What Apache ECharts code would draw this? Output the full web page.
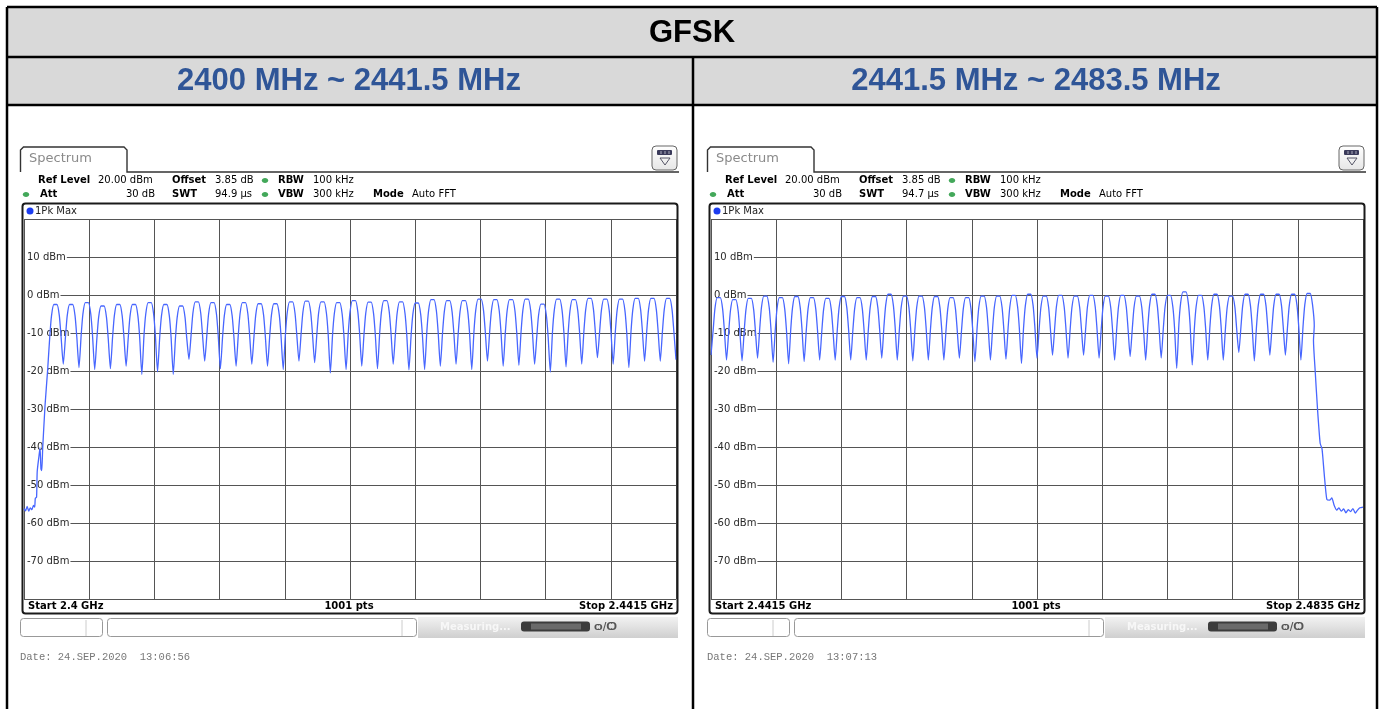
<!DOCTYPE html>
<html><head><meta charset="utf-8">
<script src="https://cdn.jsdelivr.net/npm/echarts/dist/echarts.min.js"></script>
<style>html,body{margin:0;padding:0;background:#fff}#c{width:1384px;height:709px}</style>
</head><body><div id="c"></div><script>
// ---------------- DATA ----------------
const titleText = 'GFSK';
const bandTitles = ['2400 MHz ~ 2441.5 MHz', '2441.5 MHz ~ 2483.5 MHz'];
const yTicksDbm = [20, 10, 0, -10, -20, -30, -40, -50, -60, -70, -80];

// Left sweep: 2400 .. 2441.5 MHz
const leftStartMHz = 2400, leftStopMHz = 2441.5;
const leftChannelsMHz = [2402,2403,2404,2405,2406,2407,2408,2409,2410,2411,2412,2413,2414,2415,2416,2417,2418,2419,2420,2421,
  2422,2423,2424,2425,2426,2427,2428,2429,2430,2431,2432,2433,2434,2435,2436,2437,2438,2439,2440,2441];
const leftPeakDbm = [-2.5,-2.5,-2.0,-2.9,-2.5,-2.5,-2.0,-2.5,-2.9,-1.8,-2.0,-2.5,-2.0,-2.3,-2.3,-1.8,-1.6,-1.8,-2.0,
  -1.5,-1.9,-1.5,-1.8,-2.1,-1.2,-1.5,-1.5,-1.1,-1.2,-1.2,-1.1,-2.4,-1.1,-1.2,-0.9,-1.1,-1.1,-0.9,-0.9,-0.9];
const leftTroughDbm = [-18.2,-19.1,-19.6,-19.4,-18.7,-20.9,-20.2,-20.9,-16.9,-17.4,-19.4,-18.7,-18.2,-18.7,-19.6,-17.4,-17.8,-20.5,
  -19.6,-18.7,-19.4,-18.2,-19.7,-19.6,-18.7,-18.2,-19.6,-17.4,-18.7,-18.5,-18.2,-20.3,-18.9,-18.2,-16.5,-18.2,-19.1,-17.4,-17.4];
const leftLeadTrace = [[2400.0,-56.2],[2400.1,-56.8],[2400.2,-55.6],[2400.3,-56.9],[2400.4,-56.0],[2400.5,-56.5],[2400.6,-55.4],
  [2400.68,-55.8],[2400.72,-53.5],[2400.8,-53.2],[2400.84,-46.5],[2400.95,-42.5],[2401.02,-40.2],[2401.08,-45.8],[2401.13,-46.2],
  [2401.19,-40.3],[2401.34,-29],[2401.5,-20]];
const leftTailTrace = [[2441.5,-17.0]];

// Right sweep: 2441.5 .. 2483.5 MHz
const rightStartMHz = 2441.5, rightStopMHz = 2483.5;
const rightChannelsMHz = [2442,2443,2444,2445,2446,2447,2448,2449,2450,2451,2452,2453,2454,2455,2456,2457,2458,2459,2460,2461,
  2462,2463,2464,2465,2466,2467,2468,2469,2470,2471,2472,2473,2474,2475,2476,2477,2478,2479,2480];
const rightPeakDbm = [-0.7,-1.2,-0.9,-0.3,-0.7,-0.4,-0.7,-0.9,-0.4,-0.7,-0.4,0.2,-0.3,-0.3,-0.4,-0.7,-0.7,-0.3,-0.3,-0.1,0.2,
  -0.3,-0.1,-0.3,-0.1,-0.3,-0.1,-0.3,0.2,-0.1,0.8,-0.1,0.2,-0.3,0.2,0.2,0.2,0.2,0.4];
const rightTroughDbm = [-17.1,-17.3,-16.6,-17.7,-18.1,-17.5,-17.1,-17.1,-17.1,-17.1,-16.6,-17.1,-17.3,-17.1,-17.1,-16.6,-17.5,-17.1,-16.9,-18.0,
  -16.6,-15.8,-16.6,-15.8,-16.6,-17.1,-16.2,-17.1,-16.6,-19.3,-18.4,-17.1,-17.1,-15.1,-17.3,-15.8,-15.8,-17.1];
const rightLeadTrace = [[2441.5,-15.8]];
const rightTailTrace = [[2480.31,-12],[2480.42,-20],[2480.57,-30],[2480.74,-39],[2480.86,-40.5],[2481.0,-47],
  [2481.17,-53.8],[2481.35,-54.0],[2481.49,-53.4],[2481.64,-55.3],[2481.81,-56.6],[2481.95,-56.0],[2482.1,-56.9],[2482.25,-56.3],
  [2482.4,-57.3],[2482.55,-56.5],[2482.7,-57.0],[2482.85,-56.2],[2483.0,-57.4],[2483.15,-56.6],[2483.3,-56.0],[2483.5,-55.8]];

const panelInfo = [
  {swt:'94.9 µs', start:'Start 2.4 GHz', stop:'Stop 2.4415 GHz', date:'Date: 24.SEP.2020  13:06:56'},
  {swt:'94.7 µs', start:'Start 2.4415 GHz', stop:'Stop 2.4835 GHz', date:'Date: 24.SEP.2020  13:07:13'}
];

// ---------------- BUILD ----------------
// Shape of one channel lobe: [MHz from channel centre, dB below the channel peak]
const LOBE_SHAPE = [[-0.36,-8.5],[-0.25,-3.0],[-0.1,0],[0.1,0],[0.25,-3.0],[0.36,-8.5]];
function buildTrace(start, lead, channels, peaks, troughs, tail) {
  const pts = lead.map(p => [p[0] - start, p[1]]);
  channels.forEach((f, i) => {
    LOBE_SHAPE.forEach(s => pts.push([f + s[0] - start, peaks[i] + s[1]]));
    if (i < troughs.length) pts.push([f + 0.5 - start, troughs[i]]);
  });
  tail.forEach(p => pts.push([p[0] - start, p[1]]));
  return pts;
}
const leftData = buildTrace(leftStartMHz, leftLeadTrace, leftChannelsMHz, leftPeakDbm, leftTroughDbm, leftTailTrace);
const rightData = buildTrace(rightStartMHz, rightLeadTrace, rightChannelsMHz, rightPeakDbm, rightTroughDbm, rightTailTrace);

const G = [];
const F = '"DejaVu Sans", sans-serif';
function txt(x, y, s, o) {
  G.push({type:'text', x:x, y:y, z:50, silent:true,
    style:Object.assign({text:s, fill:'#000', font:'10px ' + F, align:'left', verticalAlign:'middle'}, o || {})});
}
function rect(x, y, w, h, style, r, z) {
  G.push({type:'rect', z:(z === undefined ? 1 : z), silent:true, shape:{x:x, y:y, width:w, height:h, r:r || 0}, style:style});
}
function line(x1, y1, x2, y2, style, z) {
  G.push({type:'line', z:(z === undefined ? 60 : z), silent:true, shape:{x1:x1, y1:y1, x2:x2, y2:y2}, style:style});
}

// table
rect(7, 7, 1370, 98, {fill:'#d9d9d9'}, 0, -10);
const B = {stroke:'#000', lineWidth:2.5};
line(7, 7, 1377, 7, B); line(7, 57, 1377, 57, B); line(7, 105, 1377, 105, B);
line(7, 7, 7, 709, B); line(1377, 7, 1377, 709, B); line(693, 57, 693, 709, B);
txt(692, 33, titleText, {font:'bold 31px "Liberation Sans", Arial, sans-serif', align:'center'});
txt(349, 81, bandTitles[0], {font:'bold 31px "Liberation Sans", Arial, sans-serif', align:'center', fill:'#2f5597'});
txt(1036, 81, bandTitles[1], {font:'bold 31px "Liberation Sans", Arial, sans-serif', align:'center', fill:'#2f5597'});

function dot(cx, cy, color) {
  G.push({type:'ellipse', z:50, silent:true, shape:{cx:cx, cy:cy, rx:3.2, ry:2.4}, style:{fill:color}});
}
function panel(dx, p) {
  // tab
  G.push({type:'polyline', z:60, silent:true, shape:{points:[[20.5+dx,172],[20.5+dx,150],[23.5+dx,147],[124+dx,147],[127+dx,150],[127+dx,172],[679+dx,172]]},
    style:{stroke:'#333', lineWidth:1.4, fill:null}});
  txt(29+dx, 159, 'Spectrum', {fill:'#8a8a8a', font:'13px ' + F});
  // icon
  rect(652+dx, 146, 25, 24, {fill:{type:'linear',x:0,y:0,x2:0,y2:1,colorStops:[{offset:0,color:'#ffffff'},{offset:1,color:'#e6e6e6'}]}, stroke:'#666', lineWidth:1}, 4, 50);
  rect(657+dx, 150, 15, 5, {fill:'#3a3a5a'}, 1, 51);
  line(661+dx, 151, 661+dx, 154, {stroke:'#aab', lineWidth:1}, 52);
  line(665+dx, 151, 665+dx, 154, {stroke:'#aab', lineWidth:1}, 52);
  line(669+dx, 151, 669+dx, 154, {stroke:'#aab', lineWidth:1}, 52);
  G.push({type:'polygon', z:51, silent:true, shape:{points:[[660+dx,158],[670+dx,158],[665+dx,165]]}, style:{fill:null, stroke:'#556', lineWidth:1}});
  // info lines
  const bold = 'bold 10px ' + F, norm = '10px ' + F;
  txt(38+dx, 180, 'Ref Level', {font:bold}); txt(98+dx, 180, '20.00 dBm', {font:norm});
  txt(172+dx, 180, 'Offset', {font:bold}); txt(215+dx, 180, '3.85 dB', {font:norm});
  dot(265+dx, 180.5, '#43a85a');
  txt(278+dx, 180, 'RBW', {font:bold}); txt(313+dx, 180, '100 kHz', {font:norm});
  dot(26+dx, 194.5, '#43a85a');
  txt(40+dx, 194, 'Att', {font:bold}); txt(155+dx, 194, '30 dB', {font:norm, align:'right'});
  txt(172+dx, 194, 'SWT', {font:bold}); txt(215+dx, 194, p.swt, {font:norm});
  dot(265+dx, 194.5, '#43a85a');
  txt(278+dx, 194, 'VBW', {font:bold}); txt(313+dx, 194, '300 kHz', {font:norm});
  txt(373+dx, 194, 'Mode', {font:bold}); txt(412+dx, 194, 'Auto FFT', {font:norm});
  // frame
  rect(22.5+dx, 203.5, 655, 410, {fill:null, stroke:'#1a1a1a', lineWidth:2}, 3, 60);
  G.push({type:'circle', z:50, silent:true, shape:{cx:30+dx, cy:211, r:3.5}, style:{fill:'#1c3cf0'}});
  txt(35+dx, 211, '1Pk Max', {font:norm, fill:'#222'});
  txt(28+dx, 606.5, p.start, {font:bold});
  txt(349+dx, 606.5, '1001 pts', {font:bold, align:'center'});
  txt(673+dx, 606.5, p.stop, {font:bold, align:'right'});
  // status bar
  rect(20.5+dx, 618.5, 82, 18, {fill:'#fff', stroke:'#999', lineWidth:1}, 3, 5);
  line(86+dx, 620, 86+dx, 636, {stroke:'#ccc', lineWidth:1}, 6);
  rect(107.5+dx, 618.5, 309, 18, {fill:'#fff', stroke:'#999', lineWidth:1}, 3, 5);
  line(402+dx, 620, 402+dx, 636, {stroke:'#ccc', lineWidth:1}, 6);
  rect(418+dx, 617, 260, 21, {fill:{type:'linear',x:0,y:0,x2:0,y2:1,colorStops:[{offset:0,color:'#f2f2f2'},{offset:1,color:'#cfcfcf'}]}}, 0, 4);
  txt(440+dx, 627, 'Measuring...', {font:'bold 10px ' + F, fill:'#f7f7f7'});
  rect(521+dx, 621.5, 69, 10, {fill:'#3c3c3c'}, 3, 6);
  rect(531+dx, 623.5, 50, 6, {fill:'#6a6a6a'}, 0, 7);
  txt(594+dx, 627, 'ѻ/Ѻ', {font:'bold 10px ' + F, fill:'#555'});
  // date
  txt(20+dx, 657, p.date, {font:'10.5px "Liberation Mono", monospace', fill:'#777'});
}
panel(0, panelInfo[0]);
panel(687, panelInfo[1]);

function yAxisOpt(gi) {
  return {type:'value', gridIndex:gi, min:-80, max:20, interval:10,
    axisLine:{show:false}, axisTick:{show:false},
    axisLabel:{inside:true, margin:1, formatter:'{value} dBm', showMinLabel:false, showMaxLabel:false,
      color:'#2a2a2a', fontSize:10, fontFamily:'DejaVu Sans', backgroundColor:'#fff', padding:[2,1,2,2]},
    splitLine:{show:true, lineStyle:{color:'#555', width:1}}};
}
function xAxisOpt(gi, span) {
  return {type:'value', gridIndex:gi, min:0, max:span, interval:span / 10,
    axisLine:{show:false}, axisTick:{show:false}, axisLabel:{show:false},
    splitLine:{show:true, lineStyle:{color:'#555', width:1}}};
}
const traceStyle = {color:'#4766ff', width:1.3};
const option = {
  animation:false,
  backgroundColor:'#fff',
  graphic:{elements:G},
  grid:[{left:24, top:219, width:652, height:380, show:false}, {left:711, top:219, width:652, height:380, show:false}],
  xAxis:[xAxisOpt(0, leftStopMHz - leftStartMHz), xAxisOpt(1, rightStopMHz - rightStartMHz)],
  yAxis:[yAxisOpt(0), yAxisOpt(1)],
  series:[
    {type:'line', xAxisIndex:0, yAxisIndex:0, data:leftData, showSymbol:false, symbol:'none', smooth:0.2, lineStyle:traceStyle, z:3},
    {type:'line', xAxisIndex:1, yAxisIndex:1, data:rightData, showSymbol:false, symbol:'none', smooth:0.2, lineStyle:traceStyle, z:3}
  ]
};
const chart = echarts.init(document.getElementById('c'));
chart.setOption(option);
</script></body></html>
